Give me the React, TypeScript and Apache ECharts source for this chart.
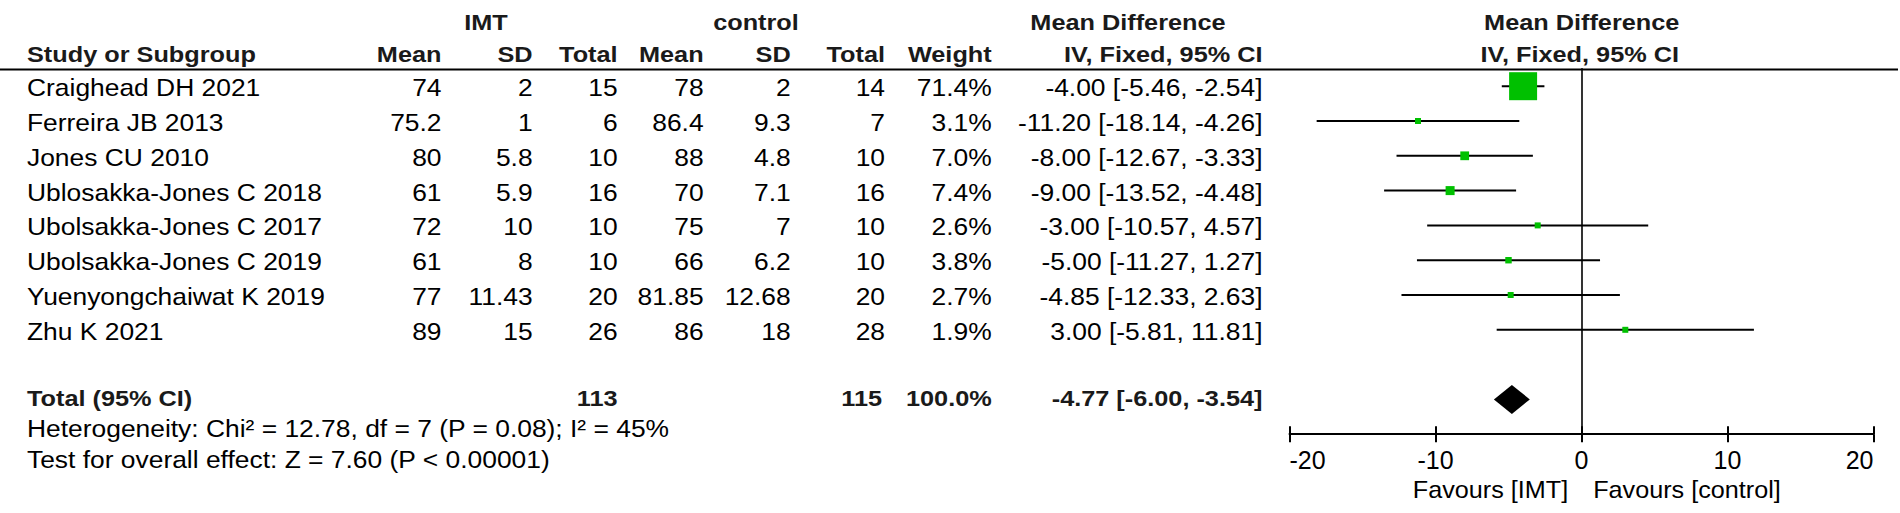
import React, { useEffect, useRef } from "react";
import * as echarts from "echarts";

// ---------- data ----------
const studies = [
  "Craighead DH 2021",
  "Ferreira JB 2013",
  "Jones CU 2010",
  "Ublosakka-Jones C 2018",
  "Ubolsakka-Jones C 2017",
  "Ubolsakka-Jones C 2019",
  "Yuenyongchaiwat K 2019",
  "Zhu K 2021",
];
const imtMean = [74, 75.2, 80, 61, 72, 61, 77, 89];
const imtSD = [2, 1, 5.8, 5.9, 10, 8, 11.43, 15];
const imtTotal = [15, 6, 10, 16, 10, 10, 20, 26];
const ctrlMean = [78, 86.4, 88, 70, 75, 66, 81.85, 86];
const ctrlSD = [2, 9.3, 4.8, 7.1, 7, 6.2, 12.68, 18];
const ctrlTotal = [14, 7, 10, 16, 10, 10, 20, 28];
const weights = [71.4, 3.1, 7.0, 7.4, 2.6, 3.8, 2.7, 1.9];
const meanDiff = [-4.0, -11.2, -8.0, -9.0, -3.0, -5.0, -4.85, 3.0];
const ciLow = [-5.46, -18.14, -12.67, -13.52, -10.57, -11.27, -12.33, -5.81];
const ciHigh = [-2.54, -4.26, -3.33, -4.48, 4.57, 1.27, 2.63, 11.81];

const totalLabel = "Total (95% CI)";
const totalImtN = 113;
const totalCtrlN = 115;
const totalWeight = 100.0;
const totalMD = -4.77;
const totalLow = -6.0;
const totalHigh = -3.54;
const totalRow = 9;

const heterogeneity = "Heterogeneity: Chi\u00B2 = 12.78, df = 7 (P = 0.08); I\u00B2 = 45%";
const overallEffect = "Test for overall effect: Z = 7.60 (P < 0.00001)";
const favoursLeft = "Favours [IMT]";
const favoursRight = "Favours [control]";

const axisMin = -20;
const axisMax = 20;
const axisInterval = 10;

// ---------- layout ----------
const FONT = "'Liberation Sans', Arial, sans-serif";
const ROW0 = 86.2;
const ROWH = 34.8;
const GRID_LEFT = 1289.5;
const GRID_WIDTH = 584;
const COLS = [441.5, 532.6, 617.6, 703.6, 790.7, 885, 991.7, 1262.5];
const NAME_X = 27;
const FOREST_CENTER = 1581.7;

function txt(text: string, x: number, y: number, align: string, bold: boolean, sx?: number) {
  return {
    type: "text",
    x,
    y,
    scaleX: sx ?? (bold ? 1.15 : 1.1),
    silent: true,
    style: {
      text,
      x: 0,
      y: 0,
      align,
      verticalAlign: "middle",
      font: bold ? `bold 22px ${FONT}` : `24px ${FONT}`,
      fill: bold ? "#1a1a1a" : "#000",
    },
  };
}

const fmtCI = (m: number, l: number, h: number) =>
  `${m.toFixed(2)} [${l.toFixed(2)}, ${h.toFixed(2)}]`;

export default function App() {
  const ref = useRef<HTMLDivElement>(null);

  useEffect(() => {
    const chart = echarts.init(ref.current!, null, { renderer: "svg" });

    const graphics: any[] = [];
    // header row 1
    const h1 = 23;
    graphics.push(txt("IMT", 486, h1, "center", true));
    graphics.push(txt("control", 756, h1, "center", true));
    graphics.push(txt("Mean Difference", 1128, h1, "center", true));
    graphics.push(txt("Mean Difference", FOREST_CENTER, h1, "center", true));
    // header row 2
    const h2 = 55;
    graphics.push(txt("Study or Subgroup", NAME_X, h2, "left", true));
    const hdr = ["Mean", "SD", "Total", "Mean", "SD", "Total", "Weight", "IV, Fixed, 95% CI"];
    hdr.forEach((h, k) => graphics.push(txt(h, COLS[k], h2, "right", true)));
    graphics.push(txt("IV, Fixed, 95% CI", FOREST_CENTER - 2, h2, "center", true));
    // header underline
    graphics.push({
      type: "line",
      silent: true,
      shape: { x1: 0, y1: 69.5, x2: 1898, y2: 69.5 },
      style: { stroke: "#000", lineWidth: 2 },
    });

    // study rows
    studies.forEach((s, i) => {
      const y = ROW0 + ROWH * i + 1.5;
      const cells = [
        String(imtMean[i]),
        String(imtSD[i]),
        String(imtTotal[i]),
        String(ctrlMean[i]),
        String(ctrlSD[i]),
        String(ctrlTotal[i]),
        `${weights[i].toFixed(1)}%`,
        fmtCI(meanDiff[i], ciLow[i], ciHigh[i]),
      ];
      graphics.push(txt(s, NAME_X, y, "left", false));
      cells.forEach((c, k) => graphics.push(txt(c, COLS[k], y, "right", false)));
    });

    // total row
    const ty = 398.5;
    graphics.push(txt(totalLabel, NAME_X, ty, "left", true));
    graphics.push(txt(String(totalImtN), COLS[2], ty, "right", true));
    graphics.push(txt(String(totalCtrlN), COLS[5] - 3, ty, "right", true));
    graphics.push(txt(`${totalWeight.toFixed(1)}%`, COLS[6], ty, "right", true));
    graphics.push(txt(fmtCI(totalMD, totalLow, totalHigh), COLS[7], ty, "right", true));

    graphics.push(txt(heterogeneity, NAME_X, 428.5, "left", false));
    graphics.push(txt(overallEffect, NAME_X, 459.5, "left", false));

    graphics.push(txt(favoursLeft, FOREST_CENTER - 13.5, 489.5, "right", false, 1.05));
    graphics.push(txt(favoursRight, FOREST_CENTER + 11.5, 489.5, "left", false, 1.05));

    const whiskerData = studies.map((_, i) => [ciLow[i], ciHigh[i], i]);
    const pointData = studies.map((_, i) => [meanDiff[i], i, weights[i]]);
    const maxW = Math.max(...weights);

    const option: any = {
      animation: false,
      backgroundColor: "#fff",
      grid: {
        left: GRID_LEFT,
        width: GRID_WIDTH,
        top: ROW0 - 0.5 * ROWH,
        height: 10.5 * ROWH,
        containLabel: false,
      },
      xAxis: [
        {
          type: "value",
          min: axisMin,
          max: axisMax,
          interval: axisInterval,
          position: "bottom",
          axisLine: { show: true, onZero: false, lineStyle: { color: "#000", width: 2 } },
          axisTick: { show: true, inside: false, length: 8, lineStyle: { color: "#000", width: 2 } },
          axisLabel: {
            show: true,
            color: "#000",
            fontSize: 25,
            fontFamily: FONT,
            margin: 13,
            alignMinLabel: "left",
            alignMaxLabel: "right",
          },
          splitLine: { show: false },
        },
        {
          type: "value",
          min: axisMin,
          max: axisMax,
          interval: axisInterval,
          position: "bottom",
          offset: 0,
          axisLine: { show: false, onZero: false },
          axisTick: { show: true, inside: true, length: 8, lineStyle: { color: "#000", width: 2 } },
          axisLabel: { show: false },
          splitLine: { show: false },
        },
      ],
      yAxis: {
        type: "value",
        inverse: true,
        min: -0.5,
        max: 10,
        axisLine: { show: true, onZero: true, lineStyle: { color: "#000", width: 1.6 } },
        axisTick: { show: false },
        axisLabel: { show: false },
        splitLine: { show: false },
      },
      series: [
        {
          type: "custom",
          name: "CI",
          z: 2,
          data: whiskerData,
          encode: { x: [0, 1], y: 2 },
          renderItem: (_p: any, api: any) => {
            const a = api.coord([api.value(0), api.value(2)]);
            const b = api.coord([api.value(1), api.value(2)]);
            return {
              type: "line",
              shape: { x1: a[0], y1: a[1], x2: b[0], y2: b[1] },
              style: { stroke: "#000", lineWidth: 2 },
            };
          },
        },
        {
          type: "scatter",
          name: "Mean difference",
          z: 3,
          symbol: "rect",
          symbolSize: (v: number[]) => Math.max(6, 28 * Math.sqrt(v[2] / maxW)),
          itemStyle: { color: "#00c000", opacity: 1 },
          data: pointData,
        },
        {
          type: "custom",
          name: "Total",
          z: 3,
          data: [[totalLow, totalMD, totalHigh, totalRow]],
          encode: { x: [0, 1, 2], y: 3 },
          renderItem: (_p: any, api: any) => {
            const row = api.value(3);
            const l = api.coord([api.value(0), row]);
            const m = api.coord([api.value(1), row]);
            const h = api.coord([api.value(2), row]);
            const hh = 14.5;
            return {
              type: "polygon",
              shape: {
                points: [
                  [l[0], l[1]],
                  [m[0], m[1] - hh],
                  [h[0], h[1]],
                  [m[0], m[1] + hh],
                ],
              },
              style: { fill: "#000" },
            };
          },
        },
      ],
      graphic: graphics,
    };

    chart.setOption(option);
    return () => chart.dispose();
  }, []);

  return (
    <div
      ref={ref}
      style={{ position: "fixed", left: 0, top: 0, width: 1900, height: 513, background: "#fff" }}
    />
  );
}
